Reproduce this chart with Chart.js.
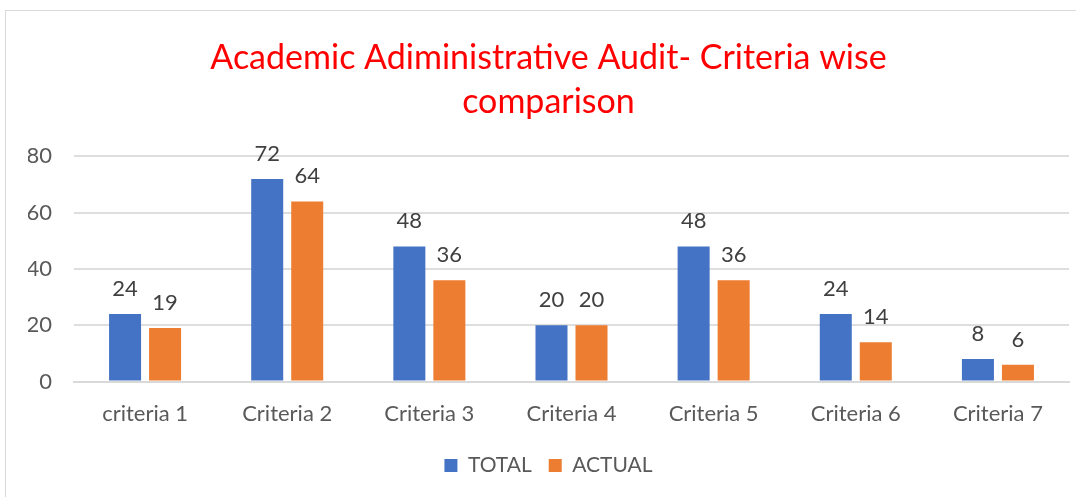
<!DOCTYPE html>
<html><head><meta charset="utf-8">
<script src="https://cdn.jsdelivr.net/npm/chart.js@4"></script>
<style>
html,body{margin:0;padding:0;background:#fff;}
#frame{position:absolute;left:5px;top:10px;width:1090px;height:500px;border:1px solid #d9d9d9;}
#wrap{position:absolute;left:0;top:0;width:1076px;height:497px;}
</style></head><body>
<div id="frame"></div>
<div id="wrap"><canvas id="c"></canvas></div>
<script>
const categories = ["criteria 1","Criteria 2","Criteria 3","Criteria 4","Criteria 5","Criteria 6","Criteria 7"];
const totalValues = [24,72,48,20,48,24,8];
const actualValues = [19,64,36,20,36,14,6];
const titleLines = ["Academic Adiministrative Audit- Criteria wise","comparison"];
const FONT = "Lato, 'Open Sans', sans-serif";

const labelPlugin = {
  id:'labels',
  afterDatasetsDraw(chart){
    const ctx = chart.ctx;
    ctx.save();
    ctx.font = "22px " + FONT;
    ctx.fillStyle = "#404040";
    ctx.textAlign = "center";
    ctx.textBaseline = "alphabetic";
    chart.data.datasets.forEach((ds,i)=>{
      chart.getDatasetMeta(i).data.forEach((bar,j)=>{
        ctx.fillText(String(ds.data[j]), bar.x, bar.y - 18);
      });
    });
    ctx.restore();
  }
};

new Chart(document.getElementById('c'),{
  type:'bar',
  data:{labels:categories,datasets:[
    {label:'TOTAL',data:totalValues,backgroundColor:'#4472C4',categoryPercentage:0.563,barPercentage:0.8},
    {label:'ACTUAL',data:actualValues,backgroundColor:'#ED7D31',categoryPercentage:0.563,barPercentage:0.8}
  ]},
  options:{
    responsive:true,maintainAspectRatio:false,animation:false,
    layout:{padding:{left:28,right:7,top:36,bottom:11}},
    plugins:{
      title:{display:true,text:titleLines,color:'#FF0000',font:{family:FONT,size:34,weight:'normal',lineHeight:1.3},padding:{top:0,bottom:32}},
      legend:{position:'bottom',labels:{color:'#595959',font:{family:FONT,size:21},boxWidth:13,boxHeight:13,padding:17,useBorderRadius:false}},
      tooltip:{enabled:false}
    },
    scales:{
      x:{grid:{display:false},border:{display:true,color:'#d9d9d9',width:2},ticks:{color:'#595959',font:{family:FONT,size:22},padding:11}},
      y:{min:0,max:80,afterFit(s){s.width=46;},ticks:{stepSize:20,color:'#595959',font:{family:FONT,size:22},padding:22},grid:{color:'#dedede',lineWidth:2,drawTicks:false},border:{display:false}}
    }
  },
  plugins:[labelPlugin]
});
</script></body></html>
